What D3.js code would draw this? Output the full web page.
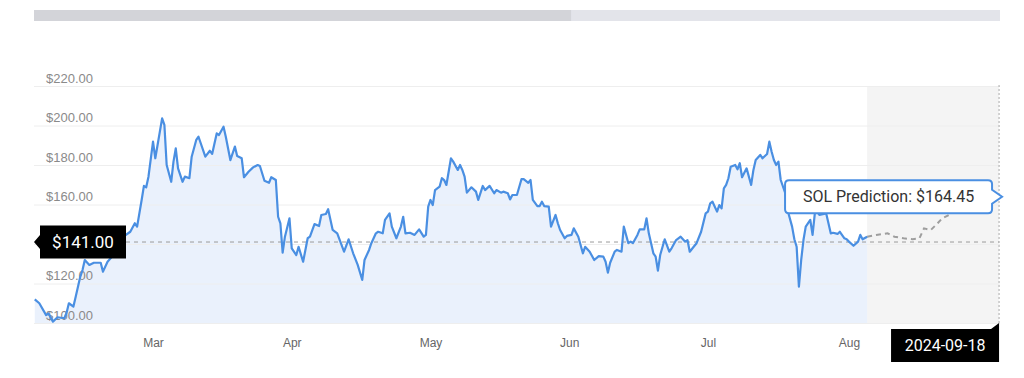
<!DOCTYPE html>
<html>
<head>
<meta charset="utf-8">
<script src="https://cdn.jsdelivr.net/npm/d3@7"></script>
<style>
  body { margin: 0; background: #fff; }
  svg { display: block; font-family: Roboto, "Noto Sans", sans-serif; }
</style>
</head>
<body>
<svg id="drawing_region"></svg>
<script>
// SOL price history (12h steps where needed)
const histDates = [
  '2024-02-19T12','2024-02-20T12','2024-02-22T00','2024-02-22T12','2024-02-23T12','2024-02-24T12','2024-02-26T00','2024-02-26T12',
  '2024-02-27T00','2024-02-28T00','2024-02-28T12','2024-02-29T12','2024-03-01T00','2024-03-01T12','2024-03-02T12','2024-03-03T12',
  '2024-03-05T00','2024-03-05T12','2024-03-06T12','2024-03-07T12','2024-03-08T12','2024-03-10T00','2024-03-11T12','2024-03-12T12',
  '2024-03-13T00','2024-03-14T00','2024-03-14T12','2024-03-15T00','2024-03-15T12','2024-03-16T12','2024-03-17T00','2024-03-17T12',
  '2024-03-18T12','2024-03-19T00','2024-03-19T12','2024-03-20T12','2024-03-21T00','2024-03-21T12','2024-03-22T00','2024-03-23T00',
  '2024-03-23T12','2024-03-24T12','2024-03-25T00','2024-03-26T00','2024-03-26T12','2024-03-28T00','2024-03-29T00','2024-03-29T12',
  '2024-03-30T12','2024-03-31T00','2024-04-01T00','2024-04-01T12','2024-04-02T12','2024-04-03T12','2024-04-04T00','2024-04-05T00',
  '2024-04-05T12','2024-04-06T12','2024-04-07T12','2024-04-08T12','2024-04-09T00','2024-04-10T00','2024-04-11T00','2024-04-11T12',
  '2024-04-12T12','2024-04-13T00','2024-04-13T12','2024-04-14T00','2024-04-14T12','2024-04-15T12','2024-04-16T00','2024-04-17T00',
  '2024-04-17T12','2024-04-18T12','2024-04-19T12','2024-04-20T00','2024-04-21T00','2024-04-22T00','2024-04-22T12','2024-04-23T12',
  '2024-04-24T00','2024-04-25T00','2024-04-26T00','2024-04-27T12','2024-04-28T12','2024-04-29T12','2024-04-30T12','2024-05-01T12',
  '2024-05-02T00','2024-05-03T00','2024-05-03T12','2024-05-04T12','2024-05-05T00','2024-05-06T00','2024-05-06T12','2024-05-07T12',
  '2024-05-08T00','2024-05-09T00','2024-05-10T00','2024-05-10T12','2024-05-11T00','2024-05-12T00','2024-05-13T00','2024-05-14T00',
  '2024-05-15T00','2024-05-15T12','2024-05-16T00','2024-05-16T12','2024-05-17T00','2024-05-17T12','2024-05-18T12','2024-05-19T00',
  '2024-05-19T12','2024-05-20T00','2024-05-21T00','2024-05-21T12','2024-05-22T12','2024-05-23T00','2024-05-23T12','2024-05-24T00',
  '2024-05-24T12','2024-05-25T12','2024-05-26T12','2024-05-27T00','2024-05-28T00','2024-05-28T12','2024-05-29T12','2024-05-30T12',
  '2024-05-31T00','2024-06-01T00','2024-06-01T12','2024-06-02T12','2024-06-03T00','2024-06-03T12','2024-06-04T12','2024-06-05T12',
  '2024-06-06T00','2024-06-07T00','2024-06-07T12','2024-06-08T00','2024-06-09T00','2024-06-09T12','2024-06-10T00','2024-06-10T12',
  '2024-06-11T12','2024-06-12T00','2024-06-13T00','2024-06-13T12','2024-06-14T00','2024-06-15T00','2024-06-15T12','2024-06-16T12',
  '2024-06-17T00','2024-06-18T00','2024-06-19T00','2024-06-19T12','2024-06-20T12','2024-06-21T12','2024-06-22T12','2024-06-23T12',
  '2024-06-24T00','2024-06-24T12','2024-06-25T00','2024-06-26T00','2024-06-26T12','2024-06-27T12','2024-06-28T00','2024-06-29T00',
  '2024-06-29T12','2024-06-30T00','2024-07-01T00','2024-07-01T12','2024-07-02T12','2024-07-03T00','2024-07-03T12','2024-07-04T12',
  '2024-07-05T00','2024-07-05T12','2024-07-06T00','2024-07-07T00','2024-07-08T00','2024-07-08T12','2024-07-09T12','2024-07-10T12',
  '2024-07-11T12','2024-07-12T00','2024-07-12T12','2024-07-13T12','2024-07-14T00','2024-07-15T00','2024-07-16T00','2024-07-16T12',
  '2024-07-17T00','2024-07-17T12','2024-07-18T12','2024-07-19T00','2024-07-19T12','2024-07-20T00','2024-07-20T12','2024-07-21T00',
  '2024-07-21T12','2024-07-22T12','2024-07-23T00','2024-07-23T12','2024-07-24T00','2024-07-25T00','2024-07-26T00','2024-07-26T12',
  '2024-07-27T00','2024-07-28T00','2024-07-28T12','2024-07-29T12','2024-07-30T00','2024-07-30T12','2024-07-31T00','2024-07-31T12',
  '2024-08-01T00','2024-08-01T12','2024-08-02T12','2024-08-03T00','2024-08-04T00','2024-08-04T12','2024-08-05T00','2024-08-05T12',
  '2024-08-06T00','2024-08-06T12','2024-08-07T00','2024-08-08T00','2024-08-08T12','2024-08-09T00','2024-08-09T12','2024-08-10T00',
  '2024-08-11T00','2024-08-11T12','2024-08-12T12','2024-08-13T00','2024-08-14T00','2024-08-14T12','2024-08-15T12','2024-08-16T00',
  '2024-08-16T12','2024-08-17T12','2024-08-18T12','2024-08-19T00','2024-08-19T12','2024-08-20T12'
];
const histPrices = [
  112.0,110.0,104.0,104.9,100.7,102.9,102.4,105.2,
  110.0,108.3,113.3,123.4,126.8,131.9,129.4,130.5,
  130.5,126.0,131.0,133.6,137.0,143.7,146.2,150.5,
  148.8,162.3,169.4,168.7,174.1,191.8,183.4,190.1,
  203.6,200.3,180.0,171.5,181.7,188.4,178.3,171.5,
  174.1,173.3,184.2,192.7,194.3,184.2,187.2,185.6,
  196.0,195.2,199.4,194.3,182.5,189.3,184.6,183.4,
  173.8,176.6,178.8,180.0,179.5,172.0,171.0,173.8,
  172.4,153.8,150.5,135.6,143.7,153.0,137.8,134.4,
  138.6,131.0,142.9,143.7,150.1,149.1,154.7,155.2,
  157.6,147.1,145.4,136.1,142.4,135.3,129.4,121.8,
  131.9,137.0,140.4,145.4,146.2,145.4,152.2,155.5,
  148.8,142.9,148.8,153.8,145.4,145.7,144.6,147.4,
  143.7,144.6,158.9,162.3,159.7,167.3,169.0,173.3,
  172.4,169.9,183.4,181.7,177.5,180.0,177.5,174.1,
  166.0,168.7,166.5,162.3,169.4,167.3,169.4,165.7,
  167.3,166.0,166.5,165.7,162.6,164.8,164.8,172.8,
  172.8,171.0,172.4,162.3,159.2,159.2,161.4,159.2,
  158.9,148.8,154.7,150.5,147.1,142.9,144.1,144.6,
  147.9,143.7,135.3,138.6,136.1,131.9,133.9,133.6,
  131.0,125.5,130.5,136.1,137.0,136.1,148.8,140.4,
  141.2,140.4,144.6,147.4,147.4,153.0,145.4,135.3,
  133.6,126.5,134.4,142.4,136.1,137.8,142.0,143.7,
  141.2,142.0,136.1,139.0,140.4,146.2,155.5,156.4,
  160.6,161.4,156.4,159.7,158.1,168.2,169.9,173.3,
  179.1,180.0,177.8,180.9,173.8,178.3,169.9,177.5,
  182.5,185.1,183.4,185.6,191.8,186.7,182.5,180.0,
  181.7,172.4,165.7,157.2,148.8,142.4,138.6,118.4,
  131.9,142.0,148.8,152.2,144.6,155.5,156.4,154.7,
  155.2,155.5,145.4,145.7,145.1,146.2,142.9,142.4,
  141.2,139.1,141.2,144.6,142.4,143.7
];

// forecast part (grey dashed)
const predDates = [
  '2024-08-20T12','2024-08-22T12','2024-08-25T00','2024-08-26T12','2024-08-28T12','2024-08-30T12','2024-09-01T00','2024-09-02T00',
  '2024-09-03T12','2024-09-05T00','2024-09-06T00','2024-09-07T12','2024-09-09T00','2024-09-13T00','2024-09-18T12'
];
const predPrices = [
  143.7,144.6,145.4,143.7,142.9,142.4,142.9,147.9,
  147.1,150.5,153.0,154.7,158.1,160.5,164.45
];

const yTicks = [100, 120, 140, 160, 180, 200, 220];
const xExtent = ['2024-02-19T08', '2024-09-18T17'];
const currentPrice = 141.00;
const predictionText = 'SOL Prediction: $164.45';
const targetDate = '2024-09-18';
const scrollShare = 0.556;

class predictionChart {

    constructor(config) {
        this.config = {
            parent: config.parent,
            width: config.width || 1024,
            height: config.height || 378,
            margin: config.margin || { top: 86, right: 24, bottom: 54, left: 34 }
        };
        this.init();
    }

    init() {
        let self = this;
        const parse = d3.timeParse('%Y-%m-%dT%H');

        self.hist = histDates.map((d, i) => ({ date: parse(d), value: histPrices[i] }));
        self.pred = predDates.map((d, i) => ({ date: parse(d), value: predPrices[i] }));

        self.svg = d3.select(self.config.parent)
            .attr('width', self.config.width)
            .attr('height', self.config.height);

        self.inner_width = self.config.width - self.config.margin.left - self.config.margin.right;
        self.inner_height = self.config.height - self.config.margin.top - self.config.margin.bottom;

        self.xscale = d3.scaleTime()
            .domain(xExtent.map(parse))
            .range([0, self.inner_width]);
        self.yscale = d3.scaleLinear()
            .domain([100, 220])
            .range([self.inner_height - 1, 0]);

        // scroll bar on top
        const bar = self.svg.append('g')
            .attr('transform', `translate(${self.config.margin.left}, 10)`);
        bar.append('rect')
            .attr('width', self.inner_width).attr('height', 11)
            .attr('fill', '#e3e4ea');
        bar.append('rect')
            .attr('width', self.inner_width * scrollShare).attr('height', 11)
            .attr('fill', '#d3d4d9');

        self.chart = self.svg.append('g')
            .attr('transform', `translate(${self.config.margin.left}, ${self.config.margin.top})`);
    }

    render() {
        let self = this;
        const x = self.xscale, y = self.yscale;
        const lastHist = self.hist[self.hist.length - 1];
        const lastPred = self.pred[self.pred.length - 1];
        const xEnd = x(lastPred.date);

        // forecast background
        self.chart.append('rect')
            .attr('x', x(lastHist.date))
            .attr('width', xEnd - x(lastHist.date))
            .attr('height', self.inner_height)
            .attr('fill', '#f4f4f4');

        // area under the history
        const area = d3.area()
            .x(d => x(d.date))
            .y0(self.inner_height)
            .y1(d => y(d.value));
        self.chart.append('path')
            .attr('d', area(self.hist))
            .attr('fill', '#eaf1fc');

        // y grid + labels (the 140 label sits under the price tag)
        const yaxis = d3.axisRight(y)
            .tickValues(yTicks)
            .tickSize(self.inner_width)
            .tickFormat(d => d === 140 ? '' : '$' + d3.format('.2f')(d));
        const yg = self.chart.append('g').call(yaxis);
        yg.select('.domain').remove();
        yg.selectAll('line').attr('stroke', '#eeeeee');
        yg.selectAll('text')
            .attr('x', 12).attr('dy', -4)
            .attr('text-anchor', 'start')
            .attr('fill', '#8a8a8a')
            .attr('font-size', 13);

        const line = d3.line()
            .x(d => x(d.date))
            .y(d => y(d.value));

        // current price guide
        self.chart.append('line')
            .attr('x1', 92).attr('x2', xEnd)
            .attr('y1', y(currentPrice)).attr('y2', y(currentPrice))
            .attr('stroke', '#9a9a9a').attr('stroke-dasharray', '4,4');

        // end marker
        self.chart.append('line')
            .attr('x1', xEnd).attr('x2', xEnd)
            .attr('y1', -1).attr('y2', self.inner_height)
            .attr('stroke', '#aaa').attr('stroke-dasharray', '2,2');

        self.chart.append('path')
            .attr('d', line(self.pred))
            .attr('fill', 'none')
            .attr('stroke', '#9e9e9e')
            .attr('stroke-width', 2)
            .attr('stroke-dasharray', '5,4');

        self.chart.append('path')
            .attr('d', line(self.hist))
            .attr('fill', 'none')
            .attr('stroke', '#4a8fe2')
            .attr('stroke-width', 2.2)
            .attr('stroke-linejoin', 'round');

        // x axis, labels in mid month
        const months = d3.timeMonth.range(new Date(2024, 2, 1), new Date(2024, 8, 1))
            .map(m => new Date((m.getTime() + d3.timeMonth.offset(m, 1).getTime()) / 2));
        const xaxis = d3.axisBottom(x)
            .tickValues(months)
            .tickSize(0)
            .tickPadding(14)
            .tickFormat(d3.timeFormat('%b'));
        const xg = self.chart.append('g')
            .attr('transform', `translate(0, ${self.inner_height})`)
            .call(xaxis);
        xg.select('.domain').remove();
        xg.selectAll('text').attr('fill', '#666').attr('font-size', 12);

        // current price tag
        const cy = y(currentPrice);
        self.chart.append('path')
            .attr('d', `M0,${cy} L6,${cy - 7} V${cy - 16.5} H92 V${cy + 16.5} H6 V${cy + 7} Z`)
            .attr('fill', '#000');
        self.chart.append('text')
            .attr('x', 49).attr('y', cy).attr('dy', '0.35em')
            .attr('text-anchor', 'middle')
            .attr('fill', '#fff').attr('font-size', 17)
            .text('$' + d3.format('.2f')(currentPrice));

        // forecast tooltip
        const ty = y(lastPred.value) + 1;
        const R = xEnd - 7, L = R - 207, T = ty - 16.5, B = ty + 16.5, r = 4;
        self.chart.append('path')
            .attr('d', `M${L + r},${T} H${R - r} Q${R},${T} ${R},${T + r} V${ty - 7} L${xEnd + 3},${ty} L${R},${ty + 7} V${B - r} Q${R},${B} ${R - r},${B} H${L + r} Q${L},${B} ${L},${B - r} V${T + r} Q${L},${T} ${L + r},${T} Z`)
            .attr('fill', '#fff')
            .attr('stroke', '#4a8fe2')
            .attr('stroke-width', 2);
        self.chart.append('text')
            .attr('x', (L + R) / 2).attr('y', ty).attr('dy', '0.35em')
            .attr('text-anchor', 'middle')
            .attr('fill', '#333').attr('font-size', 16)
            .text(predictionText);

        // date tag under the end marker
        const dT = self.inner_height + 5, dB = dT + 33;
        self.chart.append('path')
            .attr('d', `M${xEnd - 108},${dT} H${xEnd - 8} L${xEnd},${dT - 6} V${dB} H${xEnd - 108} Z`)
            .attr('fill', '#000');
        self.chart.append('text')
            .attr('x', xEnd - 54).attr('y', (dT + dB) / 2).attr('dy', '0.35em')
            .attr('text-anchor', 'middle')
            .attr('fill', '#fff').attr('font-size', 16)
            .text(targetDate);
    }

}

const chart = new predictionChart({
    parent: '#drawing_region',
    width: 1024,
    height: 378,
    margin: { top: 86, right: 24, bottom: 54, left: 34 }
});
chart.render();
</script>
</body>
</html>
